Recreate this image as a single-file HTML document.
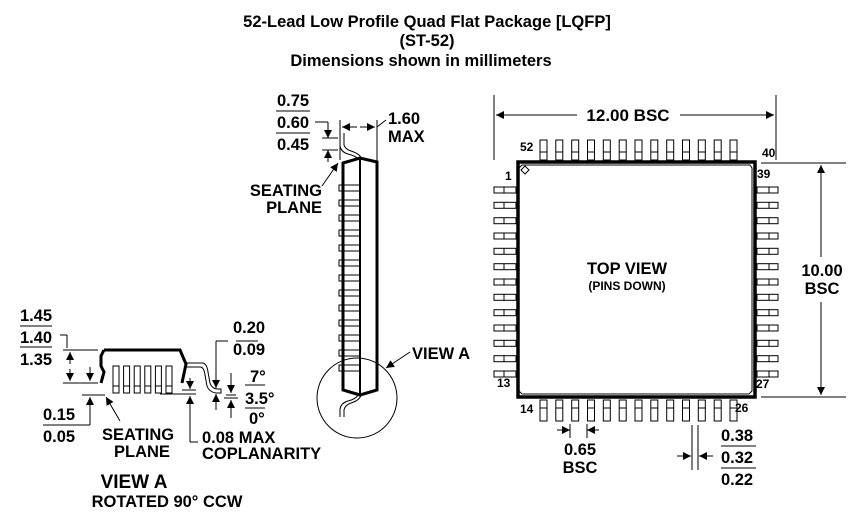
<!DOCTYPE html>
<html><head><meta charset="utf-8"><style>
html,body{margin:0;padding:0;background:#fff;}
svg{display:block;}
text{font-family:"Liberation Sans",Arial,sans-serif;fill:#000;}
.t{font-size:16.5px;font-weight:bold;}
.s{font-size:12px;font-weight:bold;}
</style></head><body>
<svg width="863" height="524" viewBox="0 0 863 524" xmlns="http://www.w3.org/2000/svg">
<defs>
<marker id="a" viewBox="0 0 10 10" refX="10" refY="5" markerWidth="12" markerHeight="8" markerUnits="userSpaceOnUse" orient="auto"><path d="M0,0L10,5L0,10z" fill="#000"/></marker>
<g id="tp" fill="#fff" stroke="#000"><rect x="0" y="0" width="7" height="20"/><line x1="0" y1="12" x2="7" y2="12"/></g>
<g id="bp" fill="#fff" stroke="#000"><rect x="0" y="0" width="7" height="21"/><line x1="0" y1="8" x2="7" y2="8"/></g>
<g id="lp" fill="#fff" stroke="#000"><rect x="0" y="0" width="22" height="6"/><line x1="10" y1="0" x2="10" y2="6"/></g>
<g id="rp" fill="#fff" stroke="#000"><rect x="0" y="0" width="21" height="6"/><line x1="12" y1="0" x2="12" y2="6"/></g>
<g id="sp" fill="#fff" stroke="#000"><rect x="0" y="0" width="5" height="6"/><line x1="5" y1="0" x2="20" y2="0"/><line x1="5" y1="6" x2="20" y2="6"/></g>
<g id="vp" fill="#fff" stroke="#000"><rect x="0" y="0" width="6" height="27"/><line x1="0" y1="20" x2="6" y2="20"/></g>
</defs>
<g>
<use href="#tp" x="540" y="140"/><use href="#tp" x="555.8" y="140"/><use href="#tp" x="571.7" y="140"/><use href="#tp" x="587.5" y="140"/><use href="#tp" x="603.3" y="140"/><use href="#tp" x="619.2" y="140"/><use href="#tp" x="635" y="140"/><use href="#tp" x="650.8" y="140"/><use href="#tp" x="666.7" y="140"/><use href="#tp" x="682.5" y="140"/><use href="#tp" x="698.3" y="140"/><use href="#tp" x="714.2" y="140"/><use href="#tp" x="730" y="140"/>
<use href="#bp" x="540" y="400"/><use href="#bp" x="555.8" y="400"/><use href="#bp" x="571.7" y="400"/><use href="#bp" x="587.5" y="400"/><use href="#bp" x="603.3" y="400"/><use href="#bp" x="619.2" y="400"/><use href="#bp" x="635" y="400"/><use href="#bp" x="650.8" y="400"/><use href="#bp" x="666.7" y="400"/><use href="#bp" x="682.5" y="400"/><use href="#bp" x="698.3" y="400"/><use href="#bp" x="714.2" y="400"/><use href="#bp" x="730" y="400"/>
<use href="#lp" x="494" y="187"/><use href="#lp" x="494" y="202.3"/><use href="#lp" x="494" y="217.7"/><use href="#lp" x="494" y="233"/><use href="#lp" x="494" y="248.3"/><use href="#lp" x="494" y="263.7"/><use href="#lp" x="494" y="279"/><use href="#lp" x="494" y="294.3"/><use href="#lp" x="494" y="309.7"/><use href="#lp" x="494" y="325"/><use href="#lp" x="494" y="340.3"/><use href="#lp" x="494" y="355.7"/><use href="#lp" x="494" y="371"/>
<use href="#rp" x="757" y="187"/><use href="#rp" x="757" y="202.3"/><use href="#rp" x="757" y="217.7"/><use href="#rp" x="757" y="233"/><use href="#rp" x="757" y="248.3"/><use href="#rp" x="757" y="263.7"/><use href="#rp" x="757" y="279"/><use href="#rp" x="757" y="294.3"/><use href="#rp" x="757" y="309.7"/><use href="#rp" x="757" y="325"/><use href="#rp" x="757" y="340.3"/><use href="#rp" x="757" y="355.7"/><use href="#rp" x="757" y="371"/>
<use href="#sp" x="339" y="185"/><use href="#sp" x="339" y="200"/><use href="#sp" x="339" y="215"/><use href="#sp" x="339" y="230"/><use href="#sp" x="339" y="245"/><use href="#sp" x="339" y="260"/><use href="#sp" x="339" y="275"/><use href="#sp" x="339" y="290"/><use href="#sp" x="339" y="305"/><use href="#sp" x="339" y="320"/><use href="#sp" x="339" y="335"/><use href="#sp" x="339" y="350"/><use href="#sp" x="339" y="365"/>
<use href="#vp" x="113" y="366"/><use href="#vp" x="123.6" y="366"/><use href="#vp" x="134.2" y="366"/><use href="#vp" x="144.8" y="366"/><use href="#vp" x="155.4" y="366"/><use href="#vp" x="166" y="366"/>
</g>
<g stroke="#000" fill="none" stroke-width="1">
<rect x="518" y="162" width="237" height="235" stroke-width="3.5"/>
<path d="M522,165 L750,165 L752,168 L752,391 L749,394 L522,394 L519,391 L519,168 Z"/>
<path d="M521,170 L525,166 L529,170 L525,174 Z" fill="#fff"/>
<line x1="494" y1="95" x2="494" y2="160"/><line x1="776" y1="95" x2="776" y2="160"/>
<line x1="577" y1="115" x2="496" y2="115" marker-end="url(#a)"/>
<line x1="680" y1="115" x2="774" y2="115" marker-end="url(#a)"/>
<line x1="761" y1="163" x2="846" y2="163"/><line x1="761" y1="397" x2="846" y2="397"/>
<line x1="821" y1="257" x2="821" y2="165" marker-end="url(#a)"/>
<line x1="821" y1="302" x2="821" y2="395" marker-end="url(#a)"/>
<line x1="557" y1="430" x2="570" y2="430" marker-end="url(#a)"/>
<line x1="599" y1="430" x2="587" y2="430" marker-end="url(#a)"/>
<line x1="570" y1="424" x2="570" y2="438"/><line x1="587" y1="424" x2="587" y2="438"/>
<line x1="692" y1="425" x2="692" y2="470"/><line x1="698" y1="425" x2="698" y2="470"/>
<line x1="677" y1="456" x2="691" y2="456" marker-end="url(#a)"/>
<line x1="713" y1="456" x2="699" y2="456" marker-end="url(#a)"/>
<line x1="721" y1="446" x2="756" y2="446"/><line x1="721" y1="468" x2="756" y2="468"/>

<path d="M343,163 L360,158 L377,162 L377,390 L360,395 L343,390 Z" stroke-width="3"/>
<line x1="360" y1="158" x2="360" y2="395" stroke-width="2"/>
<path d="M340,133 L340,146 Q341,152 348,154 Q356,156 358,159"/>
<path d="M344,133 L344,145 Q345,149 351,151 Q360,154 361,158"/>
<path d="M358,395 Q356,399 348,401 Q341,403 340,409 L340,417"/>
<path d="M361,395 Q360,400 351,403 Q345,405 344,410 L344,417"/>
<circle cx="357" cy="398" r="40"/>
<line x1="410" y1="352" x2="386" y2="368" marker-end="url(#a)"/>
<line x1="340" y1="120" x2="340" y2="160"/><line x1="377" y1="120" x2="377" y2="218"/>
<line x1="357" y1="127" x2="342" y2="127" marker-end="url(#a)"/>
<line x1="360" y1="127" x2="375" y2="127" marker-end="url(#a)"/>
<line x1="377" y1="127" x2="386" y2="120"/>
<line x1="315" y1="122" x2="328" y2="122"/>
<line x1="328" y1="122" x2="328" y2="138" marker-end="url(#a)"/>
<line x1="328" y1="162" x2="328" y2="150" marker-end="url(#a)"/>
<line x1="322" y1="138" x2="338" y2="138"/><line x1="322" y1="150" x2="338" y2="150"/>
<line x1="276" y1="111" x2="310" y2="111"/><line x1="276" y1="133" x2="310" y2="133"/>
<line x1="322" y1="186" x2="338" y2="163" marker-end="url(#a)"/>

<path d="M104,350 L180,350 L186,364 L182,383 M104,350 L101,356 L101,366 L104,372 L101,383" stroke-width="3"/>
<path d="M186,363 L203,363 Q207,364 208,372 L210,383 Q212,389 218,389 L221,389 L221,393 L216,393 Q209,392 207,386 L205,375 Q204,367 200,367 L186,367"/>
<line x1="60" y1="335" x2="67" y2="335"/><line x1="67" y1="335" x2="67" y2="348"/>
<line x1="63" y1="350" x2="98" y2="350"/><line x1="63" y1="383" x2="98" y2="383"/>
<line x1="70" y1="364" x2="70" y2="352" marker-end="url(#a)"/>
<line x1="70" y1="369" x2="70" y2="381" marker-end="url(#a)"/>
<line x1="90" y1="367" x2="90" y2="381" marker-end="url(#a)"/>
<line x1="90" y1="410" x2="90" y2="397" marker-end="url(#a)"/>
<line x1="82" y1="395" x2="105" y2="395"/>
<line x1="90" y1="408" x2="90" y2="425"/><line x1="70" y1="425" x2="90" y2="425"/>
<line x1="20" y1="326" x2="52" y2="326"/><line x1="20" y1="347" x2="52" y2="347"/>
<line x1="43" y1="425" x2="72" y2="425"/>
<line x1="120" y1="421" x2="106" y2="397" marker-end="url(#a)"/>
<line x1="160" y1="394" x2="196" y2="394"/><line x1="182" y1="390" x2="196" y2="390"/>
<line x1="190" y1="378" x2="190" y2="389" marker-end="url(#a)"/>
<line x1="190" y1="408" x2="190" y2="396" marker-end="url(#a)"/>
<line x1="190" y1="408" x2="190" y2="442"/><line x1="190" y1="442" x2="198" y2="442"/>
<line x1="236" y1="341" x2="258" y2="341"/>
<line x1="216" y1="341" x2="228" y2="341"/>
<line x1="216" y1="341" x2="216" y2="388" marker-end="url(#a)"/>
<line x1="216" y1="410" x2="216" y2="394" marker-end="url(#a)"/>
<line x1="231" y1="373" x2="231" y2="393" marker-end="url(#a)"/>
<line x1="231" y1="418" x2="231" y2="400" marker-end="url(#a)"/>
<line x1="226" y1="395" x2="236" y2="395"/><line x1="224" y1="398" x2="238" y2="398"/>
<line x1="245" y1="385" x2="265" y2="385"/><line x1="245" y1="408" x2="265" y2="408"/>
</g>

<g class="t">
<text x="427" y="27" text-anchor="middle">52-Lead Low Profile Quad Flat Package [LQFP]</text>
<text x="427" y="46" text-anchor="middle">(ST-52)</text>
<text x="421" y="66" text-anchor="middle">Dimensions shown in millimeters</text>
<text x="628" y="121" text-anchor="middle" font-size="17">12.00 BSC</text>
<text x="627" y="274" text-anchor="middle">TOP VIEW</text>
<text x="627" y="290" text-anchor="middle" font-size="12">(PINS DOWN)</text>
<text x="822" y="276" text-anchor="middle">10.00</text>
<text x="822" y="294" text-anchor="middle">BSC</text>
<text x="580" y="455" text-anchor="middle">0.65</text>
<text x="580" y="473" text-anchor="middle">BSC</text>
<text x="721" y="441">0.38</text><text x="721" y="463">0.32</text><text x="721" y="485">0.22</text>
<text x="277" y="106">0.75</text><text x="277" y="128">0.60</text><text x="277" y="150">0.45</text>
<text x="388" y="124">1.60</text><text x="388" y="142">MAX</text>
<text x="322" y="196" text-anchor="end">SEATING</text>
<text x="322" y="213" text-anchor="end">PLANE</text>
<text x="412" y="359">VIEW A</text>
<text x="20" y="321">1.45</text><text x="20" y="343">1.40</text><text x="20" y="365">1.35</text>
<text x="43" y="420">0.15</text><text x="43" y="442">0.05</text>
<text x="102" y="440">SEATING</text><text x="114" y="457">PLANE</text>
<text x="202" y="443">0.08 MAX</text><text x="202" y="459">COPLANARITY</text>
<text x="233" y="333">0.20</text><text x="233" y="355">0.09</text>
<text x="250" y="382">7°</text><text x="245" y="404">3.5°</text><text x="249" y="424">0°</text>
<text x="134" y="488" text-anchor="middle" font-size="19">VIEW A</text>
<text x="167" y="507" text-anchor="middle">ROTATED 90° CCW</text>
</g>
<g class="s">
<text x="520" y="151">52</text><text x="762" y="157">40</text>
<text x="505" y="180">1</text><text x="757" y="178">39</text>
<text x="497" y="387">13</text><text x="756" y="388">27</text>
<text x="520" y="413">14</text><text x="735" y="412">26</text>
</g>
</svg>
</body></html>
